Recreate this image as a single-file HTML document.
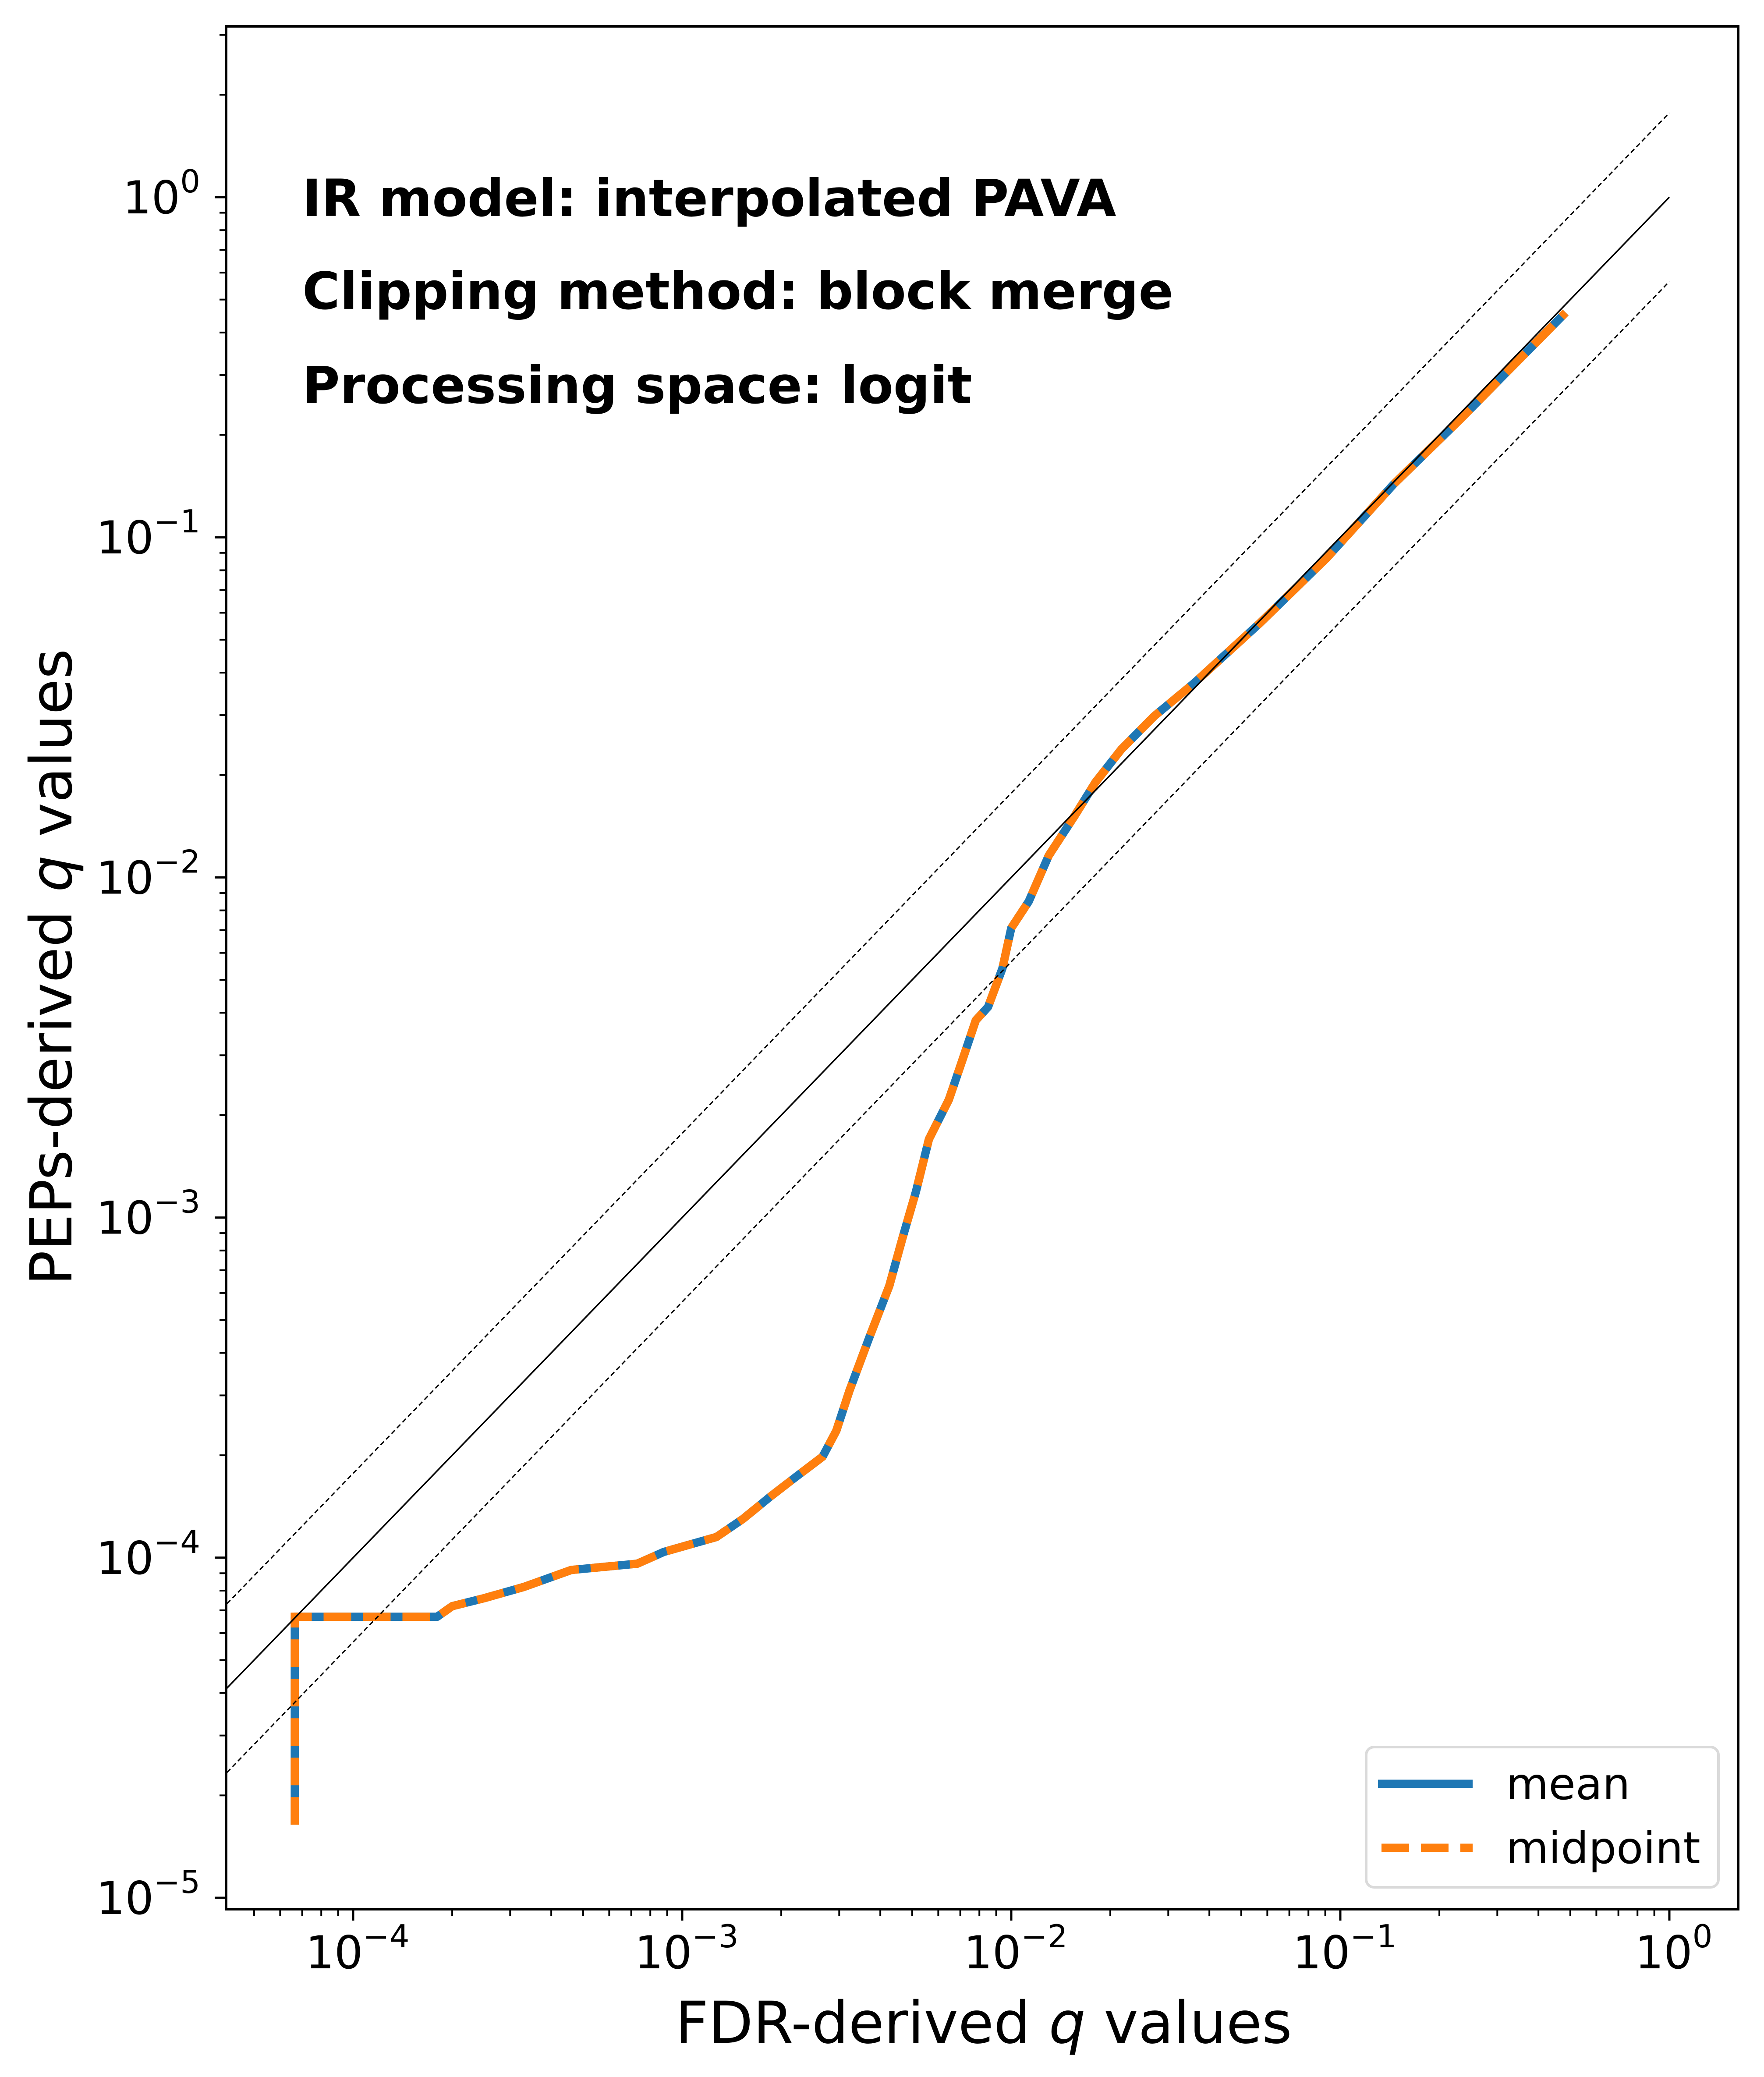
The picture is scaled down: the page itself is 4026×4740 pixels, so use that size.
<!DOCTYPE html>
<html><head><meta charset="utf-8"><style>
html,body{margin:0;padding:0;background:#fff;}
svg{display:block;}
text{font-family:"DejaVu Sans","Liberation Sans",sans-serif;fill:#000;}
</style></head><body>
<svg id="chart" width="4026" height="4740" viewBox="0 0 4026 4740" xmlns="http://www.w3.org/2000/svg">
<rect width="4026" height="4740" fill="#fff"/>
<defs><clipPath id="clip"><rect x="516" y="60" width="3451" height="4297"/></clipPath></defs>
<g id="curves" clip-path="url(#clip)"></g>
<g id="refs" clip-path="url(#clip)"></g>
<rect x="516" y="60" width="3451" height="4297" fill="none" stroke="#000" stroke-width="6"/>
<g id="ticks"></g>
<text x="690" y="493" font-size="117" font-weight="bold">IR model: interpolated PAVA</text>
<text x="690" y="705" font-size="117" font-weight="bold">Clipping method: block merge</text>
<text x="690" y="920" font-size="117" font-weight="bold">Processing space: logit</text>
<text x="2245" y="4662" font-size="132" text-anchor="middle">FDR-derived <tspan font-style="italic">q</tspan> values</text>
<text transform="translate(163,2207) rotate(-90)" font-size="132" text-anchor="middle">PEPs-derived <tspan font-style="italic">q</tspan> values</text>
<g>
<rect x="3118" y="3987" width="804" height="320" rx="18" fill="#fff" stroke="#d6d6d6" stroke-width="6" opacity="0.9"/>
<line x1="3145" y1="4071" x2="3361" y2="4071" stroke="#1f77b4" stroke-width="19"/>
<text x="3437" y="4106" font-size="100">mean</text>
<line x1="3153" y1="4217" x2="3361" y2="4217" stroke="#ff7f0e" stroke-width="19" stroke-dasharray="63,27"/>
<text x="3437" y="4252" font-size="100">midpoint</text>
</g>
</svg>
<script>
const fdrQ = [6.65e-5, 6.65e-5, 1.8e-4, 2.0e-4, 2.5e-4, 3.3e-4, 4.6e-4, 7.3e-4, 8.8e-4, 1.27e-3, 1.53e-3, 1.85e-3, 2.22e-3, 2.67e-3, 2.94e-3, 3.22e-3, 3.7e-3, 4.26e-3, 4.67e-3, 5.13e-3, 5.62e-3, 6.46e-3, 7.1e-3, 7.8e-3, 8.5e-3, 9.4e-3, 1.0e-2, 1.13e-2, 1.30e-2, 1.56e-2, 1.80e-2, 2.16e-2, 2.72e-2, 3.6e-2, 5.7e-2, 9.1e-2, 0.145, 0.231, 0.484];
const meanPep = [1.64e-5, 6.7e-5, 6.7e-5, 7.2e-5, 7.6e-5, 8.2e-5, 9.2e-5, 9.6e-5, 1.04e-4, 1.15e-4, 1.30e-4, 1.51e-4, 1.73e-4, 1.98e-4, 2.36e-4, 3.09e-4, 4.43e-4, 6.3e-4, 8.7e-4, 1.19e-3, 1.70e-3, 2.22e-3, 2.90e-3, 3.8e-3, 4.16e-3, 5.4e-3, 7.1e-3, 8.5e-3, 1.16e-2, 1.52e-2, 1.9e-2, 2.38e-2, 2.98e-2, 3.73e-2, 5.6e-2, 8.7e-2, 0.143, 0.222, 0.458];
const midPep = [1.64e-5, 6.7e-5, 6.7e-5, 7.2e-5, 7.6e-5, 8.2e-5, 9.2e-5, 9.6e-5, 1.04e-4, 1.15e-4, 1.30e-4, 1.51e-4, 1.73e-4, 1.98e-4, 2.36e-4, 3.09e-4, 4.43e-4, 6.3e-4, 8.7e-4, 1.19e-3, 1.70e-3, 2.22e-3, 2.90e-3, 3.8e-3, 4.16e-3, 5.4e-3, 7.1e-3, 8.5e-3, 1.16e-2, 1.52e-2, 1.9e-2, 2.38e-2, 2.98e-2, 3.73e-2, 5.6e-2, 8.7e-2, 0.143, 0.222, 0.458];
const xTickExps = [-4, -3, -2, -1, 0];
const yTickExps = [-5, -4, -3, -2, -1, 0];
const refFactors = [1, 1.77, 1/1.77];

const NS = "http://www.w3.org/2000/svg";
function xs(v){ return 806 + (Math.log10(v) + 4) * 751; }
function ys(v){ return 450 - Math.log10(v) * 776.2; }
function mk(tag, attrs, parent){ const e=document.createElementNS(NS,tag); for(const k in attrs) e.setAttribute(k,attrs[k]); parent.appendChild(e); return e; }

const curves = document.getElementById('curves');
function pts(xa, ya){ return xa.map((x,i)=>xs(x).toFixed(1)+','+ys(ya[i]).toFixed(1)).join(' '); }
const meanLine = mk('polyline',{points:pts(fdrQ,meanPep),fill:'none',stroke:'#1f77b4','stroke-width':19,'stroke-linejoin':'round'},curves);


const midLine = mk('polyline',{points:pts(fdrQ,midPep),fill:'none',stroke:'#ff7f0e','stroke-width':19,'stroke-dasharray':'63,27'},curves);



const refs = document.getElementById('refs');
const xLo = Math.pow(10,-4.4), xHi = 1;
refFactors.forEach((f,i)=>{
  const l = mk('line',{x1:xs(xLo),y1:ys(xLo*f),x2:xs(xHi),y2:ys(xHi*f),stroke:'#000','stroke-width':i===0?3.5:3},refs);
  if(i>0) l.setAttribute('stroke-dasharray','11,7');
  
  
});

const ticks = document.getElementById('ticks');
const xMin=516, xMax=3967, yMin=60, yMax=4357;
for(let e=-5;e<=0;e++){
  for(let m=1;m<10;m++){
    const v=m*Math.pow(10,e);
    const X=xs(v);
    if(X>=xMin-1 && X<=xMax+1){
      const t=mk('line',{x1:X,y1:yMax,x2:X,y2:yMax+(m===1?26:15),stroke:'#000','stroke-width':m===1?5:4},ticks);
      
      
    }
    const Y=ys(v);
    if(Y>=yMin-1 && Y<=yMax+1){
      const t=mk('line',{x1:xMin,y1:Y,x2:xMin-(m===1?26:15),y2:Y,stroke:'#000','stroke-width':m===1?5:4},ticks);
      
      
    }
  }
}
xTickExps.forEach(e=>{
  const X=xs(Math.pow(10,e));
  const t=mk('text',{x:X+10,y:4492,'font-size':103,'text-anchor':'middle'},ticks);
  t.innerHTML = e===0 ? '10<tspan dy="-48" font-size="72">0</tspan>' : '10<tspan dy="-48" font-size="72">\u2212'+(-e)+'</tspan>';
  
  
});
yTickExps.forEach(e=>{
  const Y=ys(Math.pow(10,e));
  const t=mk('text',{x:457,y:Y+37,'font-size':103,'text-anchor':'end'},ticks);
  t.innerHTML = e===0 ? '10<tspan dy="-48" font-size="72">0</tspan>' : '10<tspan dy="-48" font-size="72">\u2212'+(-e)+'</tspan>';
  
  
});
</script>
</body></html>
